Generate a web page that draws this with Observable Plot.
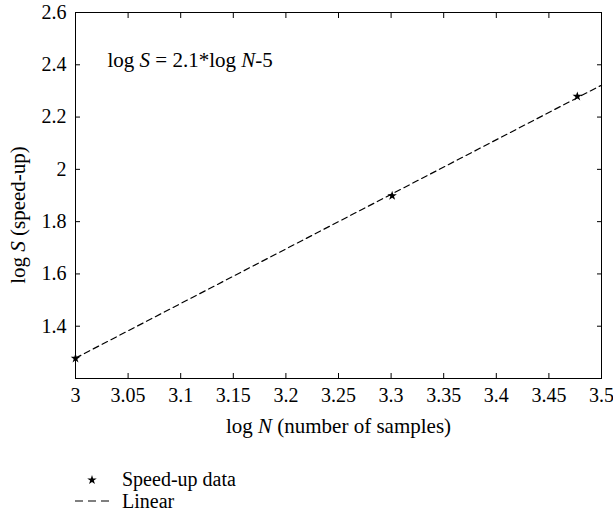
<!DOCTYPE html>
<html><head><meta charset="utf-8">
<script src="https://cdn.jsdelivr.net/npm/d3@7"></script>
<script src="https://cdn.jsdelivr.net/npm/@observablehq/plot@0.6"></script>
<style>
body{margin:0;background:#fff;font-family:"Liberation Serif",serif;}
#chart svg{display:block;}
</style>
</head><body>
<div id="chart"></div>
<script>
// Data
const logN = [3, 3.301, 3.477];
const logS = [1.277, 1.899, 2.279];
const fitN = [3, 3.5];
const fitS = [1.278, 2.322];
const xTicks = [3, 3.05, 3.1, 3.15, 3.2, 3.25, 3.3, 3.35, 3.4, 3.45, 3.5];
const yTicks = [1.4, 1.6, 1.8, 2, 2.2, 2.4, 2.6];
const annotation = "log S = 2.1*log N-5";
const xLabel = "log N (number of samples)";
const yLabel = "log S (speed-up)";
const legendLabels = ["Speed-up data", "Linear"];

const fmt = d => String(+(+d).toFixed(2));
const points = logN.map((n, i) => ({n, s: logS[i]}));
const fit = fitN.map((n, i) => ({n, s: fitS[i]}));

const plot = Plot.plot({
  width: 613, height: 450,
  marginLeft: 75, marginRight: 12, marginTop: 12, marginBottom: 72,
  style: {fontFamily: "Liberation Serif", fontSize: "20px", color: "black", background: "white"},
  x: {domain: [3, 3.5]},
  y: {domain: [1.2, 2.6]},
  marks: [
    Plot.frame({stroke: "black", strokeWidth: 1}),
    Plot.axisX({anchor: "bottom", ticks: xTicks, tickSize: -5, tickPadding: 14, tickFormat: fmt, label: null, fontSize: 20}),
    Plot.axisX({anchor: "top", ticks: xTicks, tickSize: -5, tickFormat: () => "", label: null}),
    Plot.axisY({anchor: "left", ticks: yTicks, tickSize: -5, tickPadding: 14, tickFormat: fmt, label: null, fontSize: 20}),
    Plot.axisY({anchor: "right", ticks: yTicks, tickSize: -5, tickFormat: () => "", label: null}),
    Plot.line(fit, {x: "n", y: "s", stroke: "black", strokeWidth: 1.2, strokeDasharray: "6,4"}),
    Plot.dot(points, {x: "n", y: "s", symbol: "star", fill: "black", r: 3}),
    Plot.text([annotation], {frameAnchor: "top-left", dx: 32, dy: 40, textAnchor: "start", fontSize: 21}),
    Plot.text([xLabel], {frameAnchor: "bottom", dy: 54, fontSize: 21})
  ]
});
document.getElementById("chart").appendChild(plot);

// y axis label (rotated)
d3.select(plot).append("text")
  .attr("class", "ylabel")
  .attr("transform", "translate(18,215) rotate(-90)")
  .attr("text-anchor", "middle").attr("dy", "0.32em")
  .attr("font-size", 21).attr("fill", "black")
  .text(yLabel);

// italic variables
function rich(el, parts) {
  el.textContent = "";
  for (const [t, it] of parts) {
    const ts = document.createElementNS("http://www.w3.org/2000/svg", "tspan");
    ts.textContent = t;
    if (it) ts.setAttribute("font-style", "italic");
    el.appendChild(ts);
  }
}
plot.querySelectorAll("text").forEach(el => {
  const t = el.textContent;
  if (t === annotation) rich(el, [["log ", 0], ["S", 1], [" = 2.1*log ", 0], ["N", 1], ["-5", 0]]);
  else if (t === xLabel) rich(el, [["log ", 0], ["N", 1], [" (number of samples)", 0]]);
  else if (t === yLabel) rich(el, [["log ", 0], ["S", 1], [" (speed-up)", 0]]);
});

// legend below the plot
const lg = d3.select("#chart").append("svg").attr("width", 613).attr("height", 62)
  .style("font-family", "Liberation Serif").style("font-size", "20px");
lg.append("path").attr("d", d3.symbol(d3.symbolStar, 28)()).attr("transform", "translate(92,30)").attr("fill", "black");
lg.append("text").attr("x", 122).attr("y", 36).text(legendLabels[0]);
lg.append("line").attr("x1", 75).attr("x2", 110).attr("y1", 51).attr("y2", 51)
  .attr("stroke", "black").attr("stroke-width", 1.2).attr("stroke-dasharray", "8,5");
lg.append("text").attr("x", 122).attr("y", 58).text(legendLabels[1]);
</script>
</body></html>
